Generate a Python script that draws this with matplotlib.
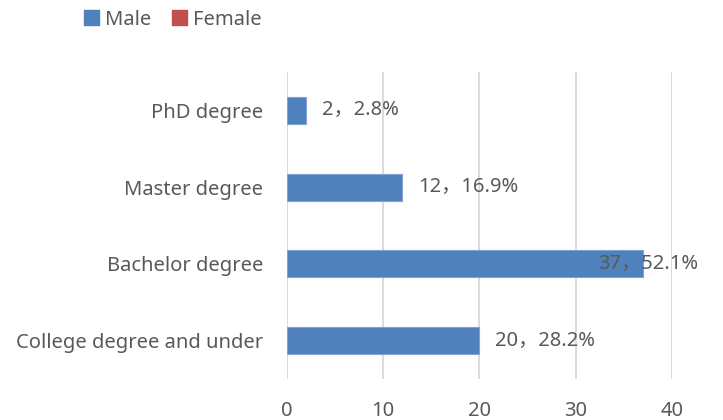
import matplotlib
matplotlib.use("Agg")
import matplotlib.pyplot as plt
from matplotlib.patches import Patch

categories = ["College degree and under", "Bachelor degree", "Master degree", "PhD degree"]
male = [20, 37, 12, 2]
female = [0, 0, 0, 0]
labels = ["20，28.2%", "37，52.1%", "12，16.9%", "2，2.8%"]
xticks = [0, 10, 20, 30, 40]

blue = "#4F81BD"
red = "#C0504D"
txt = "#595959"
fam = ["Noto Sans", "Noto Sans CJK SC", "DejaVu Sans"]
plt.rcParams["font.family"] = fam
fs = 14.5

fig = plt.figure(figsize=(7.23, 4.2), dpi=100)
ax = fig.add_axes([287/723, 1-379/420, (671.7-287)/723, (379-72)/420])

y = list(range(len(categories)))
ax.barh(y, male, height=0.35, color=blue, edgecolor="#7FA3D3", linewidth=0.8, zorder=3)

# offsets in points, the Bachelor label sits over the bar end like in the original
offs = [11.5, -32.5, 11.5, 11.5]
for yi, v, lab, o in zip(y, male, labels, offs):
    ax.annotate(lab, (v, yi), xytext=(o, 0), textcoords="offset points",
                ha="left", va="center", fontsize=fs, color=txt, zorder=4)

ax.set_xlim(0, 40)
ax.set_ylim(-0.5, 3.5)
ax.set_xticks(xticks)
ax.set_yticks(y)
ax.set_yticklabels(categories)
ax.tick_params(axis="both", length=0, labelsize=fs, labelcolor=txt)
ax.tick_params(axis="y", pad=17)
ax.tick_params(axis="x", pad=16)
ax.grid(axis="x", color="#D9D9D9", linewidth=1.3, zorder=0)
for s in ax.spines.values():
    s.set_visible(False)

handles = [Patch(color=blue, label="Male"), Patch(color=red, label="Female")]
fig.legend(handles=handles, loc="upper left", bbox_to_anchor=(66/723, 1.02), ncol=2,
           frameon=False, fontsize=fs, labelcolor=txt, handlelength=0.75, handleheight=0.75,
           handletextpad=0.3, columnspacing=1.0)

fig.savefig("out.png", dpi=100)
